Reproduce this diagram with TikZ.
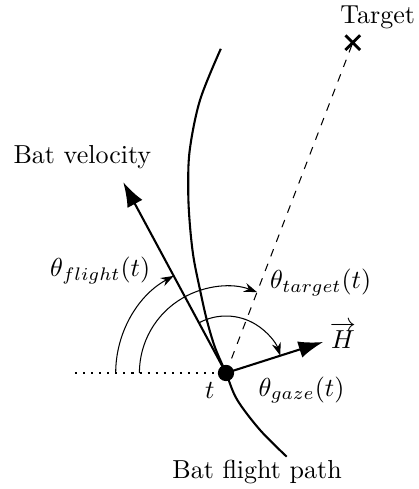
\documentclass[tikz,border=0pt]{standalone}
\usepackage{amsmath,amssymb}
\usepackage{tikz}
\usetikzlibrary{arrows.meta,positioning,calc,shapes.misc}
\tikzset{
  vecarrow/.style={-{Latex[length=9.5pt,width=6.5pt]}, thick},
  anglearc/.style={-{Stealth[length=5pt,width=3.5pt]}, thin},
  pathline/.style={thick},
  dotline/.style={line width=0.8pt, dash pattern=on 0.8pt off 2.3pt},
  targetline/.style={thin, dashed},
  crossmark/.style={cross out, draw, line width=1.1pt, minimum size=0.16cm, inner sep=0pt},
  batdot/.style={circle, fill, inner sep=0pt, minimum size=0.22cm},
}

\begin{document}
\begin{tikzpicture}
  \useasboundingbox (-3.053,-1.567) rectangle (2.607,5.039);

  % Points
  \coordinate (O) at (0,0);
  \coordinate (V) at (118.3:2.93);
  \coordinate (H) at (17.7:1.38);
  \coordinate (L) at (-2.04,0);
  \node[crossmark] (T) at (69:4.78) {};

  % Flight path
  \draw[pathline] plot[smooth, tension=0.55] coordinates {
    (-0.07,4.38) (-0.35,3.69) (-0.49,3.01) (-0.51,2.47) (-0.49,2.03)
    (-0.44,1.57) (-0.35,1.12) (-0.26,0.72) (-0.15,0.35) (0,0)
    (0.15,-0.36) (0.46,-0.77) (0.82,-1.13)};

  % Reference and target lines
  \draw[dotline] (L) -- (O);
  \draw[targetline] (O) -- (T.center);

  % Angles
  \draw[anglearc] ($(O)+(180:1.49)$) arc[start angle=180, end angle=118.3, radius=1.49];
  \draw[anglearc] ($(O)+(180:1.17)$) arc[start angle=180, end angle=69, radius=1.17];
  \draw[anglearc] ($(O)+(118.3:0.77)$) arc[start angle=118.3, end angle=17.7, radius=0.77];

  % Vectors
  \draw[vecarrow] (O) -- (V);
  \draw[vecarrow] (O) -- (H);
  \node[batdot] (dot) at (O) {};

  % Labels
  \node (velLabel) at (-1.94,2.92) {Bat velocity};
  \node (tgtLabel) at (2.05,4.81) {Target};
  \node (flightAng) at (-1.70,1.39) {$\theta_{flight}(t)$};
  \node (targetAng) at (1.28,1.22) {$\theta_{target}(t)$};
  \node (gazeAng) at (1.02,-0.23) {$\theta_{gaze}(t)$};
  \node (hLabel) at (1.58,0.51) {$\overrightarrow{H}$};
  \node (tLabel) at (-0.22,-0.24) {$t$};
  \node (pathLabel) at (0.42,-1.34) {Bat flight path};
\end{tikzpicture}
\end{document}
